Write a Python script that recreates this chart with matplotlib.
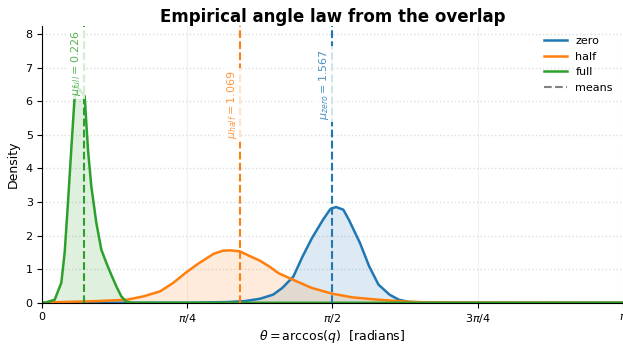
import numpy as np
import matplotlib.pyplot as plt
from matplotlib.lines import Line2D

# Data
theta_zero = [0.0, 0.80, 1.00, 1.10, 1.18, 1.25, 1.30, 1.36, 1.41, 1.46, 1.52, 1.56,
              1.59, 1.63, 1.66, 1.72, 1.77, 1.82, 1.88, 1.93, 1.99, 2.10, np.pi]
dens_zero = [0.0, 0.0, 0.02, 0.05, 0.12, 0.24, 0.44, 0.78, 1.38, 1.92, 2.47, 2.79,
             2.85, 2.77, 2.47, 1.78, 1.08, 0.54, 0.24, 0.09, 0.02, 0.0, 0.0]

theta_half = [0.0, 0.10, 0.30, 0.46, 0.55, 0.64, 0.71, 0.78, 0.85, 0.93, 0.98, 1.02,
              1.07, 1.12, 1.18, 1.23, 1.28, 1.36, 1.46, 1.57, 1.68, 1.82, 1.95, 2.08, np.pi]
dens_half = [0.0, 0.02, 0.05, 0.09, 0.19, 0.34, 0.59, 0.90, 1.18, 1.46, 1.55, 1.56,
             1.53, 1.40, 1.25, 1.08, 0.88, 0.68, 0.44, 0.27, 0.16, 0.09, 0.04, 0.01, 0.0]

theta_full = [0.0, 0.016, 0.07, 0.106, 0.124, 0.142, 0.16, 0.178, 0.205, 0.232, 0.25,
              0.268, 0.295, 0.322, 0.349, 0.376, 0.403, 0.43, 0.457, 0.49, np.pi]
dens_full = [0.0, 0.0, 0.09, 0.6, 1.5, 3.0, 4.6, 6.15, 6.35, 6.15, 4.55,
             3.46, 2.38, 1.58, 1.19, 0.83, 0.49, 0.19, 0.03, 0.0, 0.0]

names = ["zero", "half", "full"]
means = [1.567, 1.069, 0.226]
label_y = [0.79, 0.715, 0.866]  # axes fraction for mean labels
colors = ["#1f77b4", "#ff7f0e", "#2ca02c"]

fig, ax = plt.subplots(figsize=(6.23, 3.46), dpi=100)
fig.subplots_adjust(left=0.067, right=1.0, top=0.925, bottom=0.125)

series = [(theta_zero, dens_zero), (theta_half, dens_half), (theta_full, dens_full)]
for (th, d), name, c in zip(series, names, colors):
    ax.plot(th, d, color=c, lw=1.8, label=name)
    ax.fill_between(th, d, color=c, alpha=0.15, lw=0)

ax.set_xlim(0, np.pi)
ax.set_ylim(0, 8.24)

for m, name, c, fy in zip(means, names, colors, label_y):
    ax.axvline(m, color=c, ls="--", lw=1.5)
    ax.text(m - 0.005, fy, rf"$\mu_{{{name}}} = {m:.3f}$", transform=ax.get_xaxis_transform(),
            rotation=90, ha="right", va="center", color=c, fontsize=8, alpha=0.8,
            bbox=dict(boxstyle="square,pad=0.25", fc="white", ec="none", alpha=0.8))

ax.set_xticks([0, np.pi / 4, np.pi / 2, 3 * np.pi / 4, np.pi])
ax.set_xticklabels(["0", r"$\pi/4$", r"$\pi/2$", r"$3\pi/4$", r"$\pi$"])
ax.tick_params(labelsize=8, pad=3)

ax.grid(axis="y", ls=":", color="#dddddd", lw=1)
ax.grid(axis="x", color="#f0f0f0", lw=0.8)
ax.set_axisbelow(True)
ax.spines["top"].set_visible(False)
ax.spines["right"].set_visible(False)

ax.set_xlabel(r"$\theta = \arccos(q)$  [radians]", fontsize=9, labelpad=2)
ax.set_ylabel("Density", fontsize=9)
ax.set_title("Empirical angle law from the overlap", fontsize=12, fontweight="bold", pad=3)

handles, labels = ax.get_legend_handles_labels()
handles.append(Line2D([0], [0], color="gray", ls="--", lw=1.5))
labels.append("means")
ax.legend(handles, labels, loc="upper right", frameon=False, fontsize=8)

plt.savefig("out.png", dpi=100)
